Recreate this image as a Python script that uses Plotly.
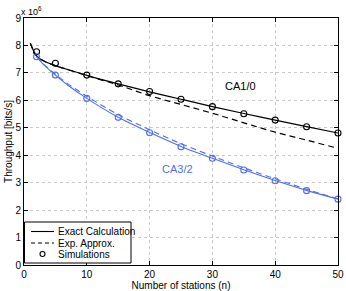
import plotly.graph_objects as go

# Data (throughput in units of 1e6 bits/s)
n_exact_ca10 = [1, 2, 3, 5, 7, 10, 15, 20, 25, 30, 35, 40, 45, 50]
exact_ca10 = [8.08, 7.62, 7.45, 7.26, 7.12, 6.91, 6.60, 6.31, 6.04, 5.77, 5.52, 5.28, 5.04, 4.81]
approx_ca10 = [8.08, 7.62, 7.45, 7.26, 7.12, 6.90, 6.56, 6.17, 5.85, 5.53, 5.18, 4.84, 4.55, 4.25]

n_ca32 = [2, 3, 5, 7, 10, 15, 20, 25, 30, 35, 40, 45, 50]
exact_ca32 = [7.59, 7.33, 6.92, 6.55, 6.07, 5.38, 4.83, 4.32, 3.89, 3.47, 3.08, 2.72, 2.40]
approx_ca32 = [7.59, 7.35, 6.95, 6.60, 6.15, 5.48, 4.93, 4.42, 3.97, 3.54, 3.14, 2.76, 2.41]

n_sim = [2, 5, 10, 15, 20, 25, 30, 35, 40, 45, 50]
sim_ca10 = [7.77, 7.35, 6.92, 6.60, 6.32, 6.04, 5.77, 5.51, 5.28, 5.04, 4.81]
sim_ca32 = [7.59, 6.92, 6.07, 5.38, 4.82, 4.31, 3.89, 3.46, 3.07, 2.71, 2.40]

x_ticks = [0, 10, 20, 30, 40, 50]
y_ticks = [0, 1, 2, 3, 4, 5, 6, 7, 8, 9]
legend_labels = ["Exact Calculation", "Exp. Approx.", "Simulations"]

BLACK = "#000000"
BLUE = "#4f6ff0"
FONT = "Liberation Sans, Arial, sans-serif"
DASH = "6px,4px"

W, H = 346, 291
ML, MR, MT, MB = 24, 8, 18, 26
PW, PH = W - ML - MR, H - MT - MB


def px_x(x):
    return (x - ML) / PW


def px_y(y):
    return (H - MB - y) / PH


fig = go.Figure()

fig.add_trace(go.Scatter(x=n_exact_ca10, y=exact_ca10, mode="lines", line=dict(color=BLACK, width=1.2, shape="spline"), showlegend=False))
fig.add_trace(go.Scatter(x=n_exact_ca10, y=approx_ca10, mode="lines", line=dict(color=BLACK, width=1.2, dash=DASH, shape="spline"), showlegend=False))
fig.add_trace(go.Scatter(x=n_sim, y=sim_ca10, mode="markers", marker=dict(symbol="circle-open", size=6, color=BLACK, line=dict(width=1.1)), showlegend=False, cliponaxis=False))

fig.add_trace(go.Scatter(x=n_ca32, y=exact_ca32, mode="lines", line=dict(color=BLUE, width=1.1, shape="spline"), showlegend=False))
fig.add_trace(go.Scatter(x=n_ca32, y=approx_ca32, mode="lines", line=dict(color=BLUE, width=1.1, dash=DASH, shape="spline"), showlegend=False))
fig.add_trace(go.Scatter(x=n_sim, y=sim_ca32, mode="markers", marker=dict(symbol="circle-open", size=6, color=BLUE, line=dict(width=1.1)), showlegend=False, cliponaxis=False))

axis_common = dict(
    showline=True, linecolor=BLACK, linewidth=1, mirror="ticks",
    ticks="inside", ticklen=4, tickcolor=BLACK,
    showgrid=True, gridcolor="#c8c8c8", griddash="dot", gridwidth=1,
    zeroline=False, tickfont=dict(family=FONT, size=10, color=BLACK),
    automargin=False,
)

# manual legend (box, samples, labels) in paper coords
shapes = [
    dict(type="rect", xref="paper", yref="paper", x0=px_x(24.5), x1=px_x(131), y0=px_y(263), y1=px_y(222),
         line=dict(color=BLACK, width=1), fillcolor="white", layer="above"),
    dict(type="line", xref="paper", yref="paper", x0=px_x(31), x1=px_x(54), y0=px_y(231.5), y1=px_y(231.5),
         line=dict(color=BLACK, width=1.1), layer="above"),
    dict(type="line", xref="paper", yref="paper", x0=px_x(31), x1=px_x(54), y0=px_y(243), y1=px_y(243),
         line=dict(color=BLACK, width=1.1, dash="4px,3px"), layer="above"),
    dict(type="circle", xref="paper", yref="paper", x0=px_x(40), x1=px_x(45), y0=px_y(256.5), y1=px_y(251.5),
         line=dict(color=BLACK, width=1.1), layer="above"),
]

annotations = [
    dict(x=0, y=1, xref="paper", yref="paper", xanchor="left", yanchor="bottom", text="x 10<sup>6</sup>",
         showarrow=False, font=dict(family=FONT, size=9, color=BLACK), xshift=-5, yshift=-1),
    dict(x=34.5, y=6.52, text="CA1/0", showarrow=False, font=dict(family=FONT, size=11, color=BLACK)),
    dict(x=24.5, y=3.48, text="CA3/2", showarrow=False, font=dict(family=FONT, size=11, color=BLUE)),
]
for label, yy in zip(legend_labels, [231.5, 243, 254]):
    annotations.append(dict(x=px_x(56), y=px_y(yy), xref="paper", yref="paper", xanchor="left", yanchor="middle",
                            text=label, showarrow=False, font=dict(family=FONT, size=10, color=BLACK)))

fig.update_layout(
    width=W, height=H,
    margin=dict(l=ML, r=MR, t=MT, b=MB),
    plot_bgcolor="white", paper_bgcolor="white",
    font=dict(family=FONT, size=10, color=BLACK),
    showlegend=False,
    xaxis=dict(range=[0, 50], tickvals=x_ticks, title=dict(text="Number of stations (n)", font=dict(size=10), standoff=0), **axis_common),
    yaxis=dict(range=[0, 9], tickvals=y_ticks, title=dict(text="Throughput [bits/s]", font=dict(size=10), standoff=0), **axis_common),
    shapes=shapes,
    annotations=annotations,
)

fig.write_html("out.html", config={"displayModeBar": False},
               post_script="document.body.style.margin='0';document.body.style.padding='0';document.body.style.overflow='hidden';")
